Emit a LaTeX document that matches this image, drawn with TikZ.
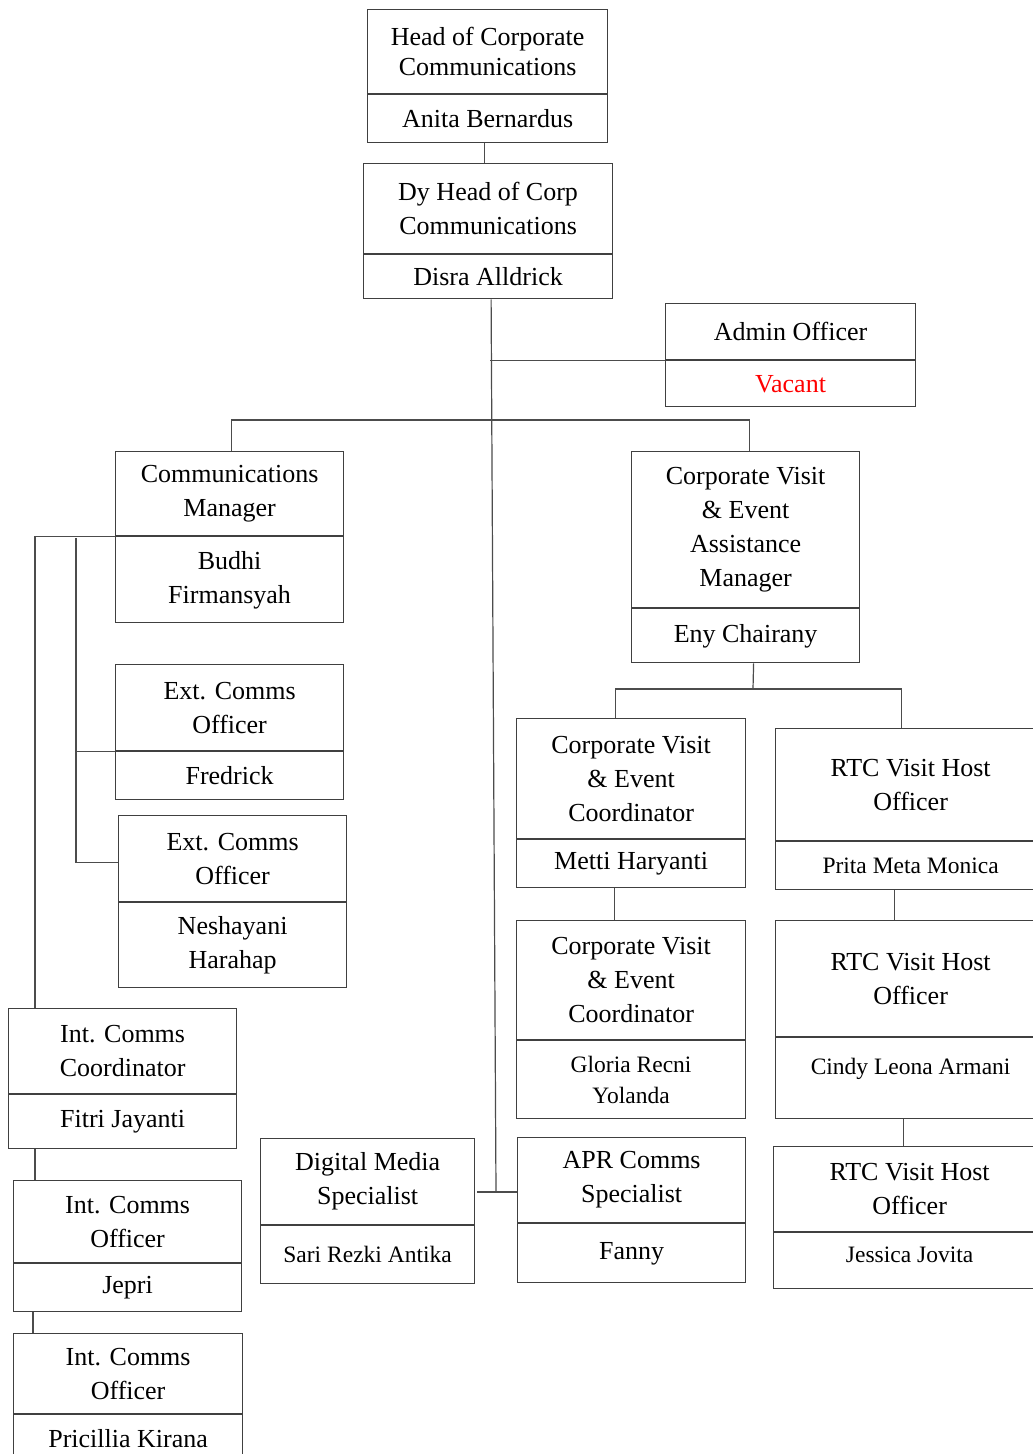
\documentclass[tikz,border=0pt]{standalone}
\usepackage{fontspec}
\setmainfont{Liberation Serif}
\usepackage{xcolor}
\usepackage{tikz}
\usetikzlibrary{positioning}

\begin{document}
\begin{tikzpicture}[x=1pt, y=1pt,
  box/.style={draw=black!75, line width=1.2pt, anchor=north west, align=center, inner sep=2pt, text=black, font=\fontsize{26}{34}\selectfont},
  small/.style={font=\fontsize{23.5}{31}\selectfont},
  link/.style={draw=black!70, line width=1.2pt}]
                        \clip (0,0) rectangle (1033,-1454);
                        % top of the chart
                        \node[box, minimum width=240, minimum height=84, font=\fontsize{26}{30}\selectfont] (head) at (367,-9) {Head of Corporate\\Communications};
                        \node[box, minimum width=240, minimum height=48] (headn) at (head.south west) {Anita Bernardus};
                        \node[box, minimum width=249, minimum height=90] (dy) at (363,-163) {Dy Head of Corp\\Communications};
                        \node[box, minimum width=249, minimum height=44] (dyn) at (dy.south west) {Disra Alldrick};
                        \node[box, minimum width=250, minimum height=56] (adm) at (665,-303) {Admin Officer};
                        \node[box, minimum width=250, minimum height=46, text=red] (admn) at (adm.south west) {Vacant};
                        % communications
                        \node[box, minimum width=228, minimum height=84] (cm) at (115,-451) {Communications\\Manager};
                        \node[box, minimum width=228, minimum height=86] (cmn) at (cm.south west) {Budhi\\Firmansyah};
                        \node[box, minimum width=228, minimum height=86] (ext1) at (115,-664) {Ext. Comms\\Officer};
                        \node[box, minimum width=228, minimum height=48] (ext1n) at (ext1.south west) {Fredrick};
                        \node[box, minimum width=228, minimum height=86] (ext2) at (118,-815) {Ext. Comms\\Officer};
                        \node[box, minimum width=228, minimum height=85] (ext2n) at (ext2.south west) {Neshayani\\Harahap};
                        \node[box, minimum width=228, minimum height=85] (ic) at (8,-1008) {Int. Comms\\Coordinator};
                        \node[box, minimum width=228, minimum height=54] (icn) at (ic.south west) {Fitri Jayanti};
                        \node[box, minimum width=228, minimum height=82] (io1) at (13,-1180) {Int. Comms\\Officer};
                        \node[box, minimum width=228, minimum height=48] (io1n) at (io1.south west) {Jepri};
                        \node[box, minimum width=229, minimum height=80] (io2) at (13,-1333) {Int. Comms\\Officer};
                        \node[box, minimum width=229, minimum height=48] (io2n) at (io2.south west) {Pricillia Kirana};
                        \node[box, minimum width=214, minimum height=86] (dm) at (260,-1138) {Digital Media\\Specialist};
                        \node[box, small, minimum width=214, minimum height=58] (dmn) at (dm.south west) {Sari Rezki Antika};
                        \node[box, minimum width=228, minimum height=85] (apr) at (517,-1137) {APR Comms\\Specialist};
                        \node[box, minimum width=228, minimum height=59] (aprn) at (apr.south west) {Fanny};
                        % corporate visit
                        \node[box, minimum width=228, minimum height=156] (cv) at (631,-451) {Corporate Visit\\\& Event\\Assistance\\Manager};
                        \node[box, minimum width=228, minimum height=54] (cvn) at (cv.south west) {Eny Chairany};
                        \node[box, minimum width=229, minimum height=120] (ce1) at (516,-718) {Corporate Visit\\\& Event\\Coordinator};
                        \node[box, minimum width=229, minimum height=48] (ce1n) at (ce1.south west) {Metti Haryanti};
                        \node[box, minimum width=229, minimum height=119] (ce2) at (516,-920) {Corporate Visit\\\& Event\\Coordinator};
                        \node[box, small, minimum width=229, minimum height=78] (ce2n) at (ce2.south west) {Gloria Recni\\Yolanda};
                        \node[box, minimum width=270, minimum height=112] (rtc1) at (775,-728) {RTC Visit Host\\Officer};
                        \node[box, small, minimum width=270, minimum height=48] (rtc1n) at (rtc1.south west) {Prita Meta Monica};
                        \node[box, minimum width=270, minimum height=116] (rtc2) at (775,-920) {RTC Visit Host\\Officer};
                        \node[box, small, minimum width=270, minimum height=81, text depth=24pt] (rtc2n) at (rtc2.south west) {Cindy Leona Armani};
                        \node[box, minimum width=272, minimum height=85] (rtc3) at (773,-1146) {RTC Visit Host\\Officer};
                        \node[box, small, minimum width=272, minimum height=56, text depth=12pt] (rtc3n) at (rtc3.south west) {Jessica Jovita};
                        % connectors
                        \coordinate (trunk) at (496,-1192);
                        \coordinate (split) at (753,-689);
                        \draw[link] ([xshift=-3]headn.south) -- ([xshift=-3]headn.south |- dy.north);
                        \draw[link] ([xshift=3]dyn.south) -- (trunk);
                        \draw[link] ([xshift=2]dm.east |- trunk) -- (apr.west |- trunk);
                        \draw[link] (adm.south west) -- ++(-175,0);
                        \draw[link] ([xshift=2]cm.north) -- ++(0,31) -| ([xshift=4]cv.north);
                        \draw[link] (cmn.north west) -| ([xshift=27]ic.north west);
                        \draw[link] ([xshift=-39,yshift=-2]cmn.north west) |- ([yshift=-4]ext2.west);
                        \draw[link] (ext1n.north west) -- ++(-39,0);
                        \draw[link] ([xshift=27]icn.south west) -- ([xshift=22]io1.north west);
                        \draw[link] ([xshift=20]io1n.south west) -- ([xshift=20]io2.north west);
                        \draw[link] ([xshift=8]cvn.south) -- (split);
                        \draw[link] ([xshift=-16]ce1.north) |- (split) -| ([xshift=-9]rtc1.north);
                        \draw[link] ([xshift=-17]ce1n.south) -- ([xshift=-17]ce2.north);
                        \draw[link] ([xshift=-16]rtc1n.south) -- ([xshift=-16]rtc2.north);
                        \draw[link] ([xshift=-7]rtc2n.south) -- ([xshift=-6]rtc3.north);
                        \end{tikzpicture}
\end{document}
